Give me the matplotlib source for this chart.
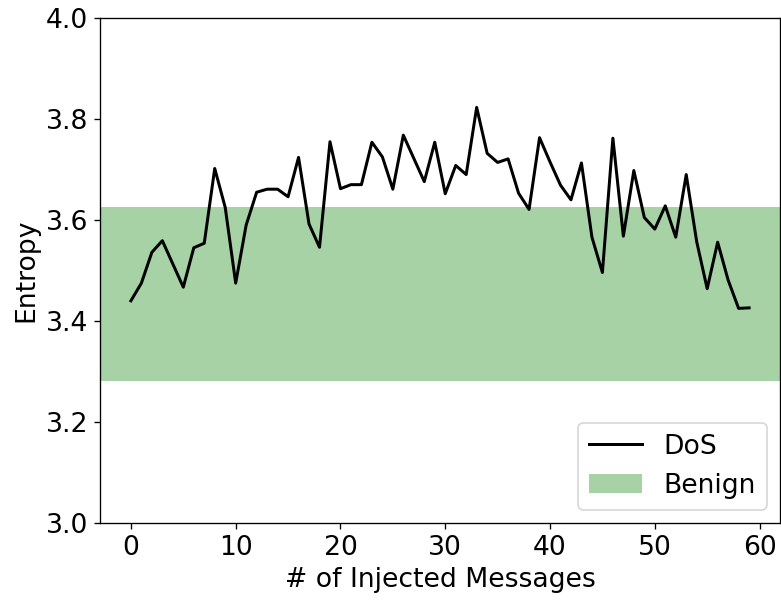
import numpy as np
import matplotlib
matplotlib.use("Agg")
import matplotlib.pyplot as plt

# number of injected messages
x = np.arange(60)

# entropy of the DoS trace
dos_entropy = [3.440, 3.475, 3.536, 3.559, 3.513, 3.467, 3.545, 3.554, 3.702, 3.625,
               3.475, 3.590, 3.655, 3.661, 3.661, 3.646, 3.724, 3.592, 3.546, 3.755,
               3.662, 3.670, 3.670, 3.754, 3.725, 3.661, 3.768, 3.722, 3.676, 3.754,
               3.652, 3.708, 3.690, 3.823, 3.732, 3.714, 3.721, 3.653, 3.621, 3.763,
               3.715, 3.669, 3.640, 3.713, 3.566, 3.496, 3.762, 3.568, 3.698, 3.605,
               3.582, 3.628, 3.566, 3.690, 3.557, 3.464, 3.556, 3.481, 3.425, 3.426]

# benign entropy range
benign_low = 3.281
benign_high = 3.625

fs = 16
dpi = 120

fig = plt.figure(figsize=(781 / dpi, 600 / dpi), dpi=dpi)
ax = fig.add_axes([100 / 781, 77 / 600, 680 / 781, 505 / 600])

ax.plot(x, dos_entropy, color="black", linewidth=1.8, label="DoS")
ax.axhspan(benign_low, benign_high, color="green", alpha=0.35, linewidth=0, label="Benign")

ax.set_ylim(3.0, 4.0)
ax.set_yticks([3.0, 3.2, 3.4, 3.6, 3.8, 4.0])
ax.set_xticks([0, 10, 20, 30, 40, 50, 60])
ax.tick_params(labelsize=fs)
ax.set_xlabel("# of Injected Messages", fontsize=fs)
ax.set_ylabel("Entropy", fontsize=fs)
ax.legend(loc="lower right", fontsize=fs)

fig.savefig("out.png", dpi=dpi)
